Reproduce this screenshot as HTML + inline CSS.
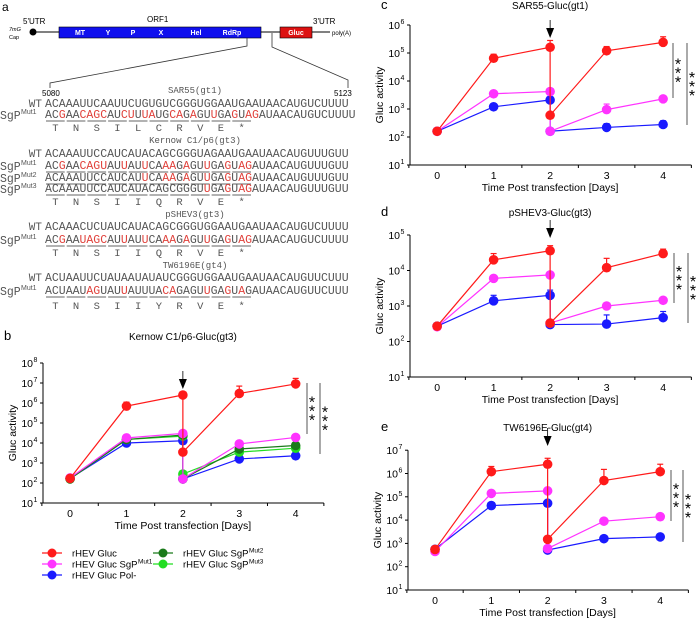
<!DOCTYPE html>
<html><head><meta charset="utf-8"><style>
body{margin:0;background:#fff}
svg{display:block;font-family:"Liberation Sans",sans-serif}
</style></head><body>
<svg id="fig" width="696" height="618" viewBox="0 0 696 618" xmlns="http://www.w3.org/2000/svg">
<g id="pa">
<text x="2" y="11" font-size="12">a</text>
<text x="23" y="24" font-size="8">5'UTR</text>
<text x="9" y="31" font-size="5.5" font-style="italic">7mG</text>
<text x="9" y="39" font-size="5.5">Cap</text>
<line x1="33" y1="32" x2="330" y2="32" stroke="#000" stroke-width="1"/>
<circle cx="33" cy="32" r="3.5" fill="#000"/>
<text x="147" y="22" font-size="8">ORF1</text>
<rect x="59" y="27" width="202" height="11" fill="#1010ee" stroke="#000" stroke-width="0.6"/>
<g font-size="7" fill="#fff" font-weight="bold" text-anchor="middle">
<text x="80" y="35">MT</text><text x="108" y="35">Y</text><text x="133" y="35">P</text><text x="161" y="35">X</text><text x="196" y="35">Hel</text><text x="232" y="35">RdRp</text></g>
<rect x="280" y="27" width="32" height="11" fill="#dd1111" stroke="#000" stroke-width="0.6"/>
<text x="296" y="35" font-size="7" fill="#fff" font-weight="bold" text-anchor="middle">Gluc</text>
<text x="313" y="24" font-size="8">3'UTR</text>
<text x="332" y="35" font-size="6">poly(A)</text>
<polyline points="247,38 247,46 50,83 50,88" fill="none" stroke="#333" stroke-width="0.8"/>
<polyline points="272,33 272,47 348,80 348,88" fill="none" stroke="#333" stroke-width="0.8"/>
<text x="42" y="96" font-size="8">5080</text>
<text x="334" y="96" font-size="8">5123</text>
</g>
<g id="seqs"></g>
</svg>
<script>
const seqRows = [
 {t:"title",y:93,s:"SAR55(gt1)"},
 {t:"seq",y:107,lab:"WT",s:"ACAAAUUCAAUUCUGUGUCGGGUGGAAUGAAUAACAUGUCUUUU"},
 {t:"mut",y:118,lab:"Mut1",s:"AC[G]AA[CAGC]AU[CU]U[UA]UG[CA]G[A]GU[U]GA[G]U[AG]AUAACAUGUCUUUU"},
 {t:"aa",y:131,s:"TNSILCRVE*"},
 {t:"title",y:143,s:"Kernow C1/p6(gt3)"},
 {t:"seq",y:157,lab:"WT",s:"ACAAAUUCCAUCAUACAGCGGGUAGAAUGAAUAACAUGUUUGUU"},
 {t:"mut",y:169,lab:"Mut1",s:"AC[G]AA[CAGU]AU[U]AU[U]CA[AA]G[A]GU[U]GA[G]U[AG]AUAACAUGUUUGUU"},
 {t:"mut",y:181,lab:"Mut2",s:"ACAAAUUCCAUCAU[U]CA[AA]G[A]GU[U]GA[G]U[AG]AUAACAUGUUUGUU"},
 {t:"mut",y:192,lab:"Mut3",s:"ACAAAUUCCAUCAUACAGCGGGU[U]GA[G]U[AG]AUAACAUGUUUGUU"},
 {t:"aa",y:205,s:"TNSIIQRVE*"},
 {t:"title",y:217,s:"pSHEV3(gt3)"},
 {t:"seq",y:230,lab:"WT",s:"ACAAACUCUAUCAUACAGCGGGUGGAAUGAAUAACAUGUCUUUU"},
 {t:"mut",y:243,lab:"Mut1",s:"AC[G]AA[UAGC]AU[U]AU[U]CA[AA]G[A]GU[U]GA[G]U[AG]AUAACAUGUCUUUU"},
 {t:"aa",y:256,s:"TNSIIQRVE*"},
 {t:"title",y:268,s:"TW6196E(gt4)"},
 {t:"seq",y:281,lab:"WT",s:"ACUAAUUCUAUAAUAUAUCGGGUGGAAUGAAUAACAUGUUCUUU"},
 {t:"mut",y:294,lab:"Mut1",s:"ACUAAU[AG]UAU[U]AUUUA[CA]GAGU[U]GA[G]U[A]GAUAACAUGUUCUUU"},
 {t:"aa",y:309,s:"TNSIIYRVE*"}
];
const NS="http://www.w3.org/2000/svg";
function mk(tag,attrs,parent){const e=document.createElementNS(NS,tag);for(const k in attrs)e.setAttribute(k,attrs[k]);parent.appendChild(e);return e;}
const sg=document.getElementById('seqs');
const X0=45, CW=6.9;
seqRows.forEach(r=>{
  if(r.t==="title"){
    const e=mk('text',{x:195,y:r.y,'font-size':9,'text-anchor':'middle',fill:'#555','font-family':'"Liberation Mono",monospace'},sg);
    
    
    e.textContent=r.s;return;
  }
  if(r.t==="aa"){
    for(let i=0;i<r.s.length;i++){
      const e=mk('text',{x:X0+(i*3+1.5)*CW,y:r.y,'font-size':10.5,'text-anchor':'middle',fill:'#555','font-family':'"Liberation Mono",monospace'},sg);
      
      
      e.textContent=r.s[i];
    }
    return;
  }
  if(r.t==="seq"){
    const l=mk('text',{x:42,y:r.y,'font-size':11,'text-anchor':'end',fill:'#555','font-family':'"Liberation Mono",monospace'},sg);
    
    
    l.textContent=r.lab;
  } else {
    const l=mk('text',{x:0,y:r.y+1,'font-size':11.5,fill:'#555','font-family':'"Liberation Mono",monospace'},sg);
    
    
    l.textContent="SgP";
    const s=mk('text',{x:21,y:r.y-4,'font-size':7,fill:'#555'},sg);
    s.textContent=r.lab;
  }
  let red=false,i=0;
  for(const ch of r.s){
    if(ch==='['){red=true;continue;}
    if(ch===']'){red=false;continue;}
    const e=mk('text',{x:X0+i*CW+CW/2,y:r.y,'font-size':11.5,'text-anchor':'middle',fill:red?'#e0403a':'#555','font-family':'"Liberation Mono",monospace'},sg);
    e.textContent=ch;i++;
  }
  if(r.t==="mut"){
    for(let c=0;c<10;c++){
      mk('line',{x1:X0+c*3*CW+1,x2:X0+(c+1)*3*CW-1,y1:r.y+3,y2:r.y+3,stroke:'#666','stroke-width':1},sg);
    }
  }
});
</script>
<script>
const colors={gluc:"#ff1a1a",mut1:"#ff33ff",pol:"#1a1aff",mut2:"#1a7a1a",mut3:"#22dd22"};
const days=[0,1,2,2,3,4];
// panel b
const bGluc=[170,7e5,2.5e6,3.5e3,3e6,9e6];
const bGlucErr=[0,1.1e6,3.5e6,0,7e6,1.7e7];
const bMut1=[180,1.8e4,3e4,160,9e3,1.9e4];
const bPol=[170,1e4,1.3e4,160,1.6e3,2.3e3];
const bMut2=[160,1.5e4,2.5e4,160,5e3,7.5e3];
const bMut3=[160,1.5e4,2.2e4,280,3.5e3,5.5e3];
// panel c
const cGluc=[160,6.5e4,1.6e5,600,1.2e5,2.4e5];
const cGlucErr=[0,9e4,2.8e5,0,1.7e5,3.8e5];
const cMut1=[160,3.5e3,4.2e3,160,950,2.3e3];
const cMut1Err=[0,0,0,0,1.5e3,0];
const cPol=[160,1200,2100,160,220,280];
const cPolErr=[0,0,0,0,300,380];
// panel d
const dGluc=[270,2e4,3.6e4,330,1.2e4,3e4];
const dGlucErr=[0,3e4,5e4,0,2.2e4,4e4];
const dMut1=[260,6e3,7.5e3,330,1e3,1.45e3];
const dPol=[270,1.4e3,2e3,300,310,470];
const dPolErr=[0,2e3,2.8e3,0,560,700];
// panel e
const eGluc=[550,1.2e6,2.5e6,1.5e3,5e5,1.2e6];
const eGlucErr=[0,2e6,4.5e6,0,1.5e6,2.5e6];
const eMut1=[450,1.4e5,1.8e5,600,9e3,1.4e4];
const ePol=[560,4.2e4,5.3e4,520,1.6e3,1.9e3];
const xTicks=[0,1,2,3,4];

const fig=document.getElementById('fig');
function panel(p){
  const g=mk('g',{},fig);
  
  
  const xs=v=>p.x0+(v+0.48)*p.unit;
  const ys=v=>p.yBot-(Math.log10(v)-1)*p.dec;
  const yTop=ys(Math.pow(10,p.maxExp));
  const xEnd=xs(4.5);
  const lab=mk('text',{x:p.lx,y:p.ty,'font-size':13},g);
  
  
  lab.textContent=p.id;
  const t=mk('text',{x:xs(2),y:p.ty,'font-size':10,'text-anchor':'middle'},g);
  
  
  t.textContent=p.title;
  mk('line',{x1:p.x0,x2:p.x0,y1:yTop,y2:p.yBot,stroke:'#000'},g);
  mk('line',{x1:p.x0,x2:xEnd,y1:p.yBot,y2:p.yBot,stroke:'#000'},g);
  for(let e=1;e<=p.maxExp;e++){
    const y=ys(Math.pow(10,e));
    mk('line',{x1:p.x0-3,x2:p.x0,y1:y,y2:y,stroke:'#000'},g);
    const tx=mk('text',{x:p.x0-10,y:y+4,'font-size':10.5,'text-anchor':'end'},g);
    
    
    tx.textContent='10';
    const sp=mk('text',{x:p.x0-9.5,y:y-1,'font-size':7},g);
    sp.textContent=String(e);
  }
  for(let k=-0.5;k<=4.5;k+=1){const x=xs(k);mk('line',{x1:x,x2:x,y1:p.yBot,y2:p.yBot+3,stroke:'#000'},g);}
  xTicks.forEach(v=>{
    const tx=mk('text',{x:xs(v),y:p.yBot+14,'font-size':10.5,'text-anchor':'middle'},g);
    
    
    tx.textContent=v;
  });
  const xl=mk('text',{x:xs(2),y:p.yBot+26,'font-size':10.5,'text-anchor':'middle'},g);
  
  
  xl.textContent='Time Post transfection [Days]';
  const ymid=(yTop+p.yBot)/2;
  const yl=mk('text',{x:p.x0-27,y:ymid,'font-size':10.5,'text-anchor':'middle',transform:`rotate(-90 ${p.x0-27} ${ymid})`},g);
  
  
  yl.textContent='Gluc activity';
  const ax=xs(2);
  mk('line',{x1:ax,x2:ax,y1:p.arrowY-12,y2:p.arrowY,stroke:'#000','stroke-width':0.8},g);
  const ar=mk('path',{d:`M${ax-4},${p.arrowY-4} L${ax+4},${p.arrowY-4} L${ax},${p.arrowY+6} Z`,fill:'#000'},g);
  
  
  p.series.slice().reverse().forEach(s=>{
    const sg2=mk('g',{},g);
    
    
    const pts=days.map((d,i)=>xs(d)+','+ys(s.v[i])).join(' ');
    mk('polyline',{points:pts,fill:'none',stroke:s.c,'stroke-width':1.2},sg2);
    if(s.err){s.err.forEach((e,i)=>{if(e>0){const x=xs(days[i]);mk('line',{x1:x,x2:x,y1:ys(s.v[i]),y2:ys(e),stroke:s.c,'stroke-width':1.2},sg2);mk('line',{x1:x-3,x2:x+3,y1:ys(e),y2:ys(e),stroke:s.c,'stroke-width':1.2},sg2);}});}
    s.v.forEach((v,i)=>{
      const c=mk('circle',{cx:xs(days[i]),cy:ys(v),r:4.8,fill:s.c},sg2);
      
      
    });
  });
  p.sig.forEach(s=>{
    mk('line',{x1:s.x,x2:s.x,y1:s.y1,y2:s.y2,stroke:'#555','stroke-width':1},g);
    const mid=(s.y1+s.y2)/2;
    [-9,0,9].forEach(o=>{const st=mk('text',{x:s.x+5,y:mid+o+8,'font-size':16,'text-anchor':'middle'},g);
      
      
      st.textContent='*';});
  });
}
panel({id:'b',title:'Kernow C1/p6-Gluc(gt3)',x0:43,unit:56.4,yBot:503,dec:20,maxExp:8,ty:340,lx:4,arrowY:383,
  series:[{name:'gluc',c:colors.gluc,v:bGluc,err:bGlucErr},{name:'mut1',c:colors.mut1,v:bMut1},{name:'mut2',c:colors.mut2,v:bMut2},{name:'mut3',c:colors.mut3,v:bMut3},{name:'pol',c:colors.pol,v:bPol}],
  sig:[{x:307,y1:383,y2:434},{x:320,y1:383,y2:454}]});
panel({id:'c',title:'SAR55-Gluc(gt1)',x0:410,unit:56.5,yBot:165,dec:28,maxExp:6,ty:9,lx:381,arrowY:32,
  series:[{name:'gluc',c:colors.gluc,v:cGluc,err:cGlucErr},{name:'mut1',c:colors.mut1,v:cMut1,err:cMut1Err},{name:'pol',c:colors.pol,v:cPol,err:cPolErr}],
  sig:[{x:673,y1:43,y2:98},{x:687,y1:43,y2:125}]});
panel({id:'d',title:'pSHEV3-Gluc(gt3)',x0:410,unit:56.5,yBot:377,dec:35.5,maxExp:5,ty:216,lx:381,arrowY:232,
  series:[{name:'gluc',c:colors.gluc,v:dGluc,err:dGlucErr},{name:'mut1',c:colors.mut1,v:dMut1},{name:'pol',c:colors.pol,v:dPol,err:dPolErr}],
  sig:[{x:674,y1:253,y2:303},{x:688,y1:253,y2:323}]});
panel({id:'e',title:'TW6196E-Gluc(gt4)',x0:408,unit:56.3,yBot:590,dec:23.3,maxExp:7,ty:431,lx:381,arrowY:440,
  series:[{name:'gluc',c:colors.gluc,v:eGluc,err:eGlucErr},{name:'mut1',c:colors.mut1,v:eMut1},{name:'pol',c:colors.pol,v:ePol}],
  sig:[{x:671,y1:470,y2:521},{x:683,y1:470,y2:542}]});

const legendNames=['rHEV Gluc','rHEV Gluc SgP','rHEV Gluc Pol-','rHEV Gluc SgP','rHEV Gluc SgP'];
const legendSup=['','Mut1','','Mut2','Mut3'];
const legendColors=[colors.gluc,colors.mut1,colors.pol,colors.mut2,colors.mut3];
const lg=mk('g',{},fig);


const lpos=[[42,553],[42,564],[42,575],[153,553],[153,564]];
legendNames.forEach((n,i)=>{
  const [x,y]=lpos[i];
  const e=mk('g',{},lg);
  
  
  mk('line',{x1:x,x2:x+20,y1:y,y2:y,stroke:legendColors[i],'stroke-width':1.2},e);
  mk('circle',{cx:x+10,cy:y,r:4.5,fill:legendColors[i]},e);
  const t=mk('text',{x:x+30,y:y+3.5,'font-size':9.5},e);
  t.textContent=n;
  if(legendSup[i]){const s=mk('text',{x:x+30+t.getComputedTextLength()+0.5,y:y-0.5,'font-size':6.5},e);s.textContent=legendSup[i];}
});
</script>
</body></html>
